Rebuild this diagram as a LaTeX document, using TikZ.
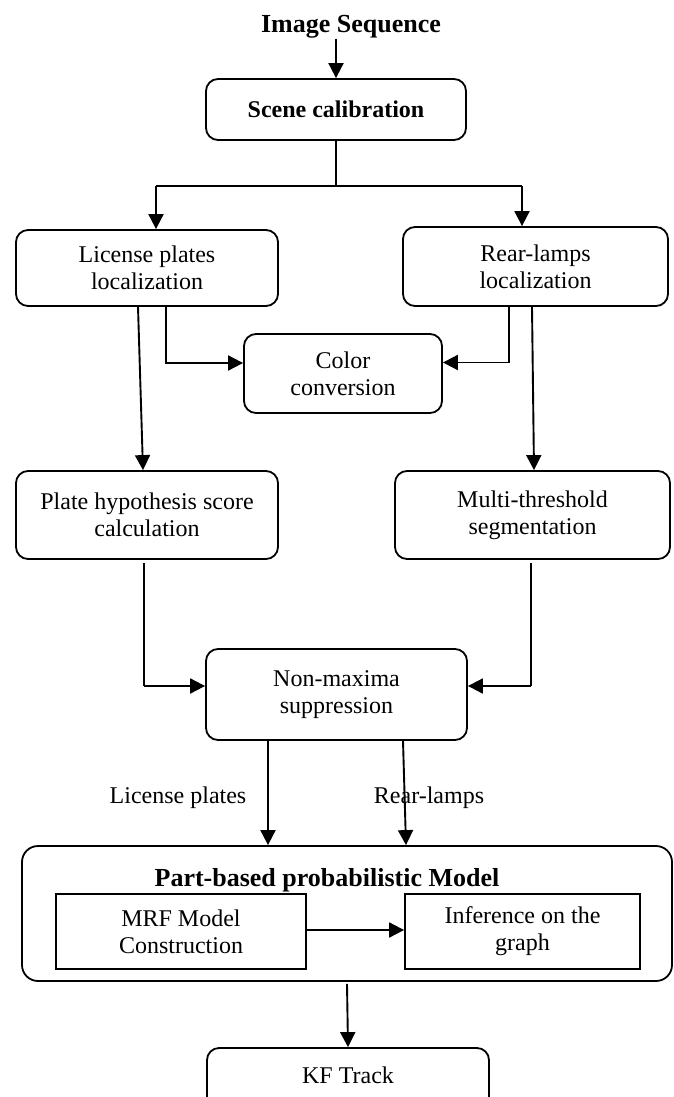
\documentclass[tikz,border=0pt]{standalone}
\usepackage{fontspec}
\setmainfont{Liberation Serif}
\usetikzlibrary{arrows.meta}
\begin{document}
\begin{tikzpicture}[x=1pt,y=-1pt,
  every node/.style={font=\fontsize{24}{27}\selectfont},
  rbox/.style={draw,line width=1.8pt,rounded corners=12pt,align=center,inner sep=0pt},
  sbox/.style={draw,line width=1.8pt,align=center,inner sep=0pt},
  arr/.style={line width=1.9pt,-{Triangle[length=15pt,width=15pt]}},
  ln/.style={line width=1.2pt},
  thinln/.style={line width=1.3pt}]
\useasboundingbox (0,0) rectangle (673,1097);

\node[inner sep=0pt,anchor=base,font=\fontsize{26}{28}\selectfont\bfseries] (seq) at (351,33) {Image Sequence};
\node[rbox,minimum width=260pt,minimum height=61pt,font=\fontsize{24}{27}\selectfont\bfseries] (scene) at (336,109.5) {Scene calibration};

\node[rbox,minimum width=262pt,minimum height=76pt] (lp) at (147,268) {License plates\\localization};
\node[rbox,minimum width=265pt,minimum height=79pt] (rl) at (535.5,266.5) {Rear-lamps\\localization};
\node[rbox,minimum width=198pt,minimum height=79pt] (cc) at (343,373.5) {Color\\conversion};

\node[rbox,minimum width=262pt,minimum height=88pt] (ph) at (147,515) {Plate hypothesis score\\calculation};
\node[rbox,minimum width=275pt,minimum height=88pt] (mt) at (532.5,515) {Multi-threshold\\segmentation};

\node[rbox,minimum width=261pt,minimum height=91pt] (nms) at (336.5,694.5) {Non-maxima\\suppression};

\node[inner sep=0pt,anchor=base] (lpl) at (178,803) {License plates};
\node[inner sep=0pt,anchor=base] (rll) at (429,803) {Rear-lamps};

\node[rbox,rounded corners=16pt,minimum width=650pt,minimum height=135pt] (model) at (347,913.5) {};
\node[inner sep=0pt,anchor=base,font=\fontsize{26}{28}\selectfont\bfseries] (mtitle) at (327,886) {Part-based probabilistic Model};
\node[sbox,minimum width=250pt,minimum height=75pt] (mrf) at (181,931.5) {MRF Model\\Construction};
\node[sbox,minimum width=235pt,minimum height=75pt] (inf) at (522.5,931.5) {Inference on the\\graph};

\node[rbox,minimum width=282pt,minimum height=70pt] (kf) at (348,1083) {};
\node[inner sep=0pt,anchor=base] (kft) at (348,1083) {KF Track};

% connectors
\draw[arr] (seq.south -| scene.north) -- (scene.north);
\coordinate (split) at (336,186);
\draw[ln] (scene.south) -- (split);
\draw[ln] ([xshift=9pt]lp.north |- split) -- ([xshift=-13.5pt]rl.north |- split);
\draw[arr] ([xshift=9pt]lp.north |- split) -- ([xshift=9pt]lp.north);
\draw[arr] ([xshift=-13.5pt]rl.north |- split) -- ([xshift=-13.5pt]rl.north);

\draw[arr] ([xshift=19pt]lp.south) |- ([yshift=10.5pt]cc.west);
\draw[arr] ([xshift=-26.5pt]rl.south) |- ([yshift=11pt]cc.east);

\draw[arr] ([xshift=-9pt]lp.south) -- ([xshift=-4pt]ph.north);
\draw[arr] ([xshift=-3.5pt]rl.south) -- ([xshift=1.5pt]mt.north);

\coordinate (c1) at (144,686);
\coordinate (c2) at (531,686);
\draw[thinln] ([xshift=-3pt,yshift=-3pt]ph.south) -- (c1);
\draw[arr] (c1) -- (c1 -| nms.west);
\draw[thinln] ([xshift=-1.5pt,yshift=-3pt]mt.south) -- (c2);
\draw[arr] (c2) -- (c2 -| nms.east);

\draw[arr] ([xshift=-68.5pt]nms.south) -- ([xshift=-79pt]model.north);
\draw[arr] ([xshift=66.5pt]nms.south) -- ([xshift=59pt]model.north);

\draw[arr] ([yshift=1.5pt]mrf.east) -- ([yshift=1.5pt]mrf.east -| inf.west);
\draw[arr] ([yshift=-2pt]model.south) -- (kf.north);
\end{tikzpicture}
\end{document}
